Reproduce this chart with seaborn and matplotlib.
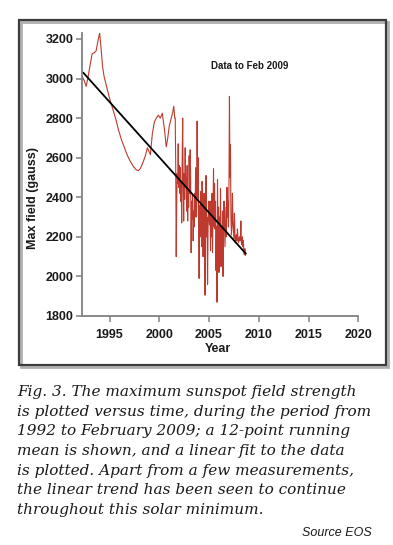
import numpy as np
import pandas as pd
import matplotlib
matplotlib.use("Agg")
import matplotlib.pyplot as plt
import seaborn as sns
from matplotlib.patches import Rectangle

# Max sunspot field (year, gauss)
# 1992 - 2001: smooth running-mean part
smooth_years = [
    1992.25, 1992.45, 1992.65, 1992.85, 1993.05, 1993.25, 1993.45, 1993.65, 1993.85, 1994.0,
    1994.15, 1994.3, 1994.45, 1994.7, 1995.0, 1995.3, 1995.6, 1995.9, 1996.2, 1996.5,
    1996.8, 1997.1, 1997.4, 1997.7, 1997.9, 1998.1, 1998.35, 1998.6, 1998.8, 1999.1,
    1999.3, 1999.5, 1999.7, 1999.9, 2000.1, 2000.3, 2000.5, 2000.7, 2000.85, 2001.0,
    2001.2, 2001.35, 2001.45, 2001.55,
]
smooth_field = [
    3010, 2990, 2960, 3010, 3070, 3125, 3130, 3140, 3195, 3230,
    3150, 3060, 3010, 2960, 2900, 2850, 2800, 2740, 2690, 2650,
    2610, 2580, 2555, 2538, 2535, 2545, 2575, 2610, 2650, 2615,
    2720, 2780, 2800, 2815, 2800, 2825, 2750, 2655, 2700, 2760,
    2800, 2830, 2860, 2800,
]

# 2001.6 - 2008.65: noisy part, one reading every 0.05 yr
noisy_start, noisy_step = 2001.6, 0.05
noisy_field = [
    2800, 2560, 2100, 2380, 2520, 2470, 2670, 2450, 2560, 2420,
    2550, 2380, 2480, 2270, 2600, 2800, 2450, 2280, 2520, 2390,
    2650, 2450, 2500, 2330, 2560, 2280, 2440, 2350, 2610, 2420,
    2640, 2500, 2120, 2380, 2290, 2410, 2180, 2330, 2250, 2420,
    2300, 2550, 2420, 2300, 2785, 2400, 2600, 2300, 1990, 2360,
    2200, 2430, 2280, 2150, 2480, 2350, 2100, 2300, 2420, 2200,
    1905, 2350, 2510, 2200, 2300, 1960, 2250, 2380, 2300, 2260,
    2380, 2130, 2300, 2200, 2420, 2120, 2350, 2545, 2250, 2470,
    2240, 2380, 2030, 2250, 1870, 2490, 2100, 2350, 2020, 2300,
    2180, 2445, 2050, 2250, 2160, 2330, 2000, 2220, 2380, 2280,
    2150, 2250, 2350, 2200, 2450, 2300, 2380, 2250, 2450, 2910,
    2500, 2665, 2300, 2210, 2260, 2420, 2275, 2230, 2190, 2320,
    2210, 2170, 2200, 2210, 2180, 2240, 2200, 2170, 2180, 2200,
    2180, 2200, 2280, 2170, 2160, 2200, 2150, 2180, 2120, 2110,
    2140, 2105,
]
noisy_years = [noisy_start + noisy_step * i for i in range(len(noisy_field))]

fit_years = [1992.35, 2008.7]
fit_field = [3030, 2115]

x_ticks = [1995, 2000, 2005, 2010, 2015, 2020]
y_ticks = [1800, 2000, 2200, 2400, 2600, 2800, 3000, 3200]

caption = [
    "Fig. 3. The maximum sunspot field strength",
    "is plotted versus time, during the period from",
    "1992 to February 2009; a 12-point running",
    "mean is shown, and a linear fit to the data",
    "is plotted. Apart from a few measurements,",
    "the linear trend has been seen to continue",
    "throughout this solar minimum.",
]

df = pd.DataFrame({"Year": smooth_years + noisy_years,
                   "Max field (gauss)": smooth_field + noisy_field})
fit = pd.DataFrame({"Year": fit_years, "Max field (gauss)": fit_field})

sns.set_theme(style="ticks")
plt.rcParams["font.family"] = ["Liberation Sans", "DejaVu Sans"]

W, H = 393, 545
fig = plt.figure(figsize=(W / 100, H / 100), dpi=100)
ax = fig.add_axes([81.7 / W, 1 - 316 / H, (358.3 - 81.7) / W, (316 - 33) / H])

sns.lineplot(data=df, x="Year", y="Max field (gauss)", sort=False, estimator=None,
             color="#bf3a2e", lw=0.8, ax=ax)
sns.lineplot(data=fit, x="Year", y="Max field (gauss)", sort=False, estimator=None,
             color="black", lw=1.3, ax=ax)

ax.set_xlim(1992.2, 2020)
ax.set_ylim(1800, 3230)
ax.set_xticks(x_ticks)
ax.set_yticks(y_ticks)
ax.set_xlabel("")
ax.set_ylabel("")
sns.despine(ax=ax)
for s in ["left", "bottom"]:
    ax.spines[s].set_color("#808080")
    ax.spines[s].set_linewidth(1.3)
ax.tick_params(axis="both", colors="#808080", labelcolor="#1a1a1a", labelsize=9,
               width=1.1, length=4)
ax.tick_params(axis="x", pad=5)
ax.tick_params(axis="y", pad=2)
for lab in ax.get_xticklabels() + ax.get_yticklabels():
    lab.set_fontweight("bold")

fig.text(218 / W, 1 - 349 / H, "Year", ha="center", va="center", fontsize=9,
         fontweight="bold", color="#1a1a1a")
fig.text(33 / W, 1 - 198 / H, "Max field (gauss)", ha="center", va="center",
         rotation=90, fontsize=9, fontweight="bold", color="#1a1a1a")
fig.text(250 / W, 1 - 66 / H, "Data to Feb 2009", ha="center", va="center",
         fontsize=7, fontweight="bold", color="#1a1a1a")

# frame around the figure panel
fig.patches.append(Rectangle((21 / W, 1 - 367 / H), 367 / W, 345 / H,
                             transform=fig.transFigure, fill=False,
                             ec="#b0b0b0", lw=2.0))
fig.patches.append(Rectangle((19 / W, 1 - 365 / H), 367 / W, 345 / H,
                             transform=fig.transFigure, fill=False,
                             ec="#3c3c3c", lw=1.6))

base = 396
for i, line in enumerate(caption):
    fig.text(17 / W, 1 - (base + i * 19.7) / H, line, ha="left", va="baseline",
             fontsize=11, style="italic", family="DejaVu Serif", color="#1a1a1a")

fig.text(372 / W, 1 - 536 / H, "Source EOS", ha="right", va="baseline",
         fontsize=9, style="italic", color="#1a1a1a")

fig.savefig("out.png", dpi=100, facecolor="white")
